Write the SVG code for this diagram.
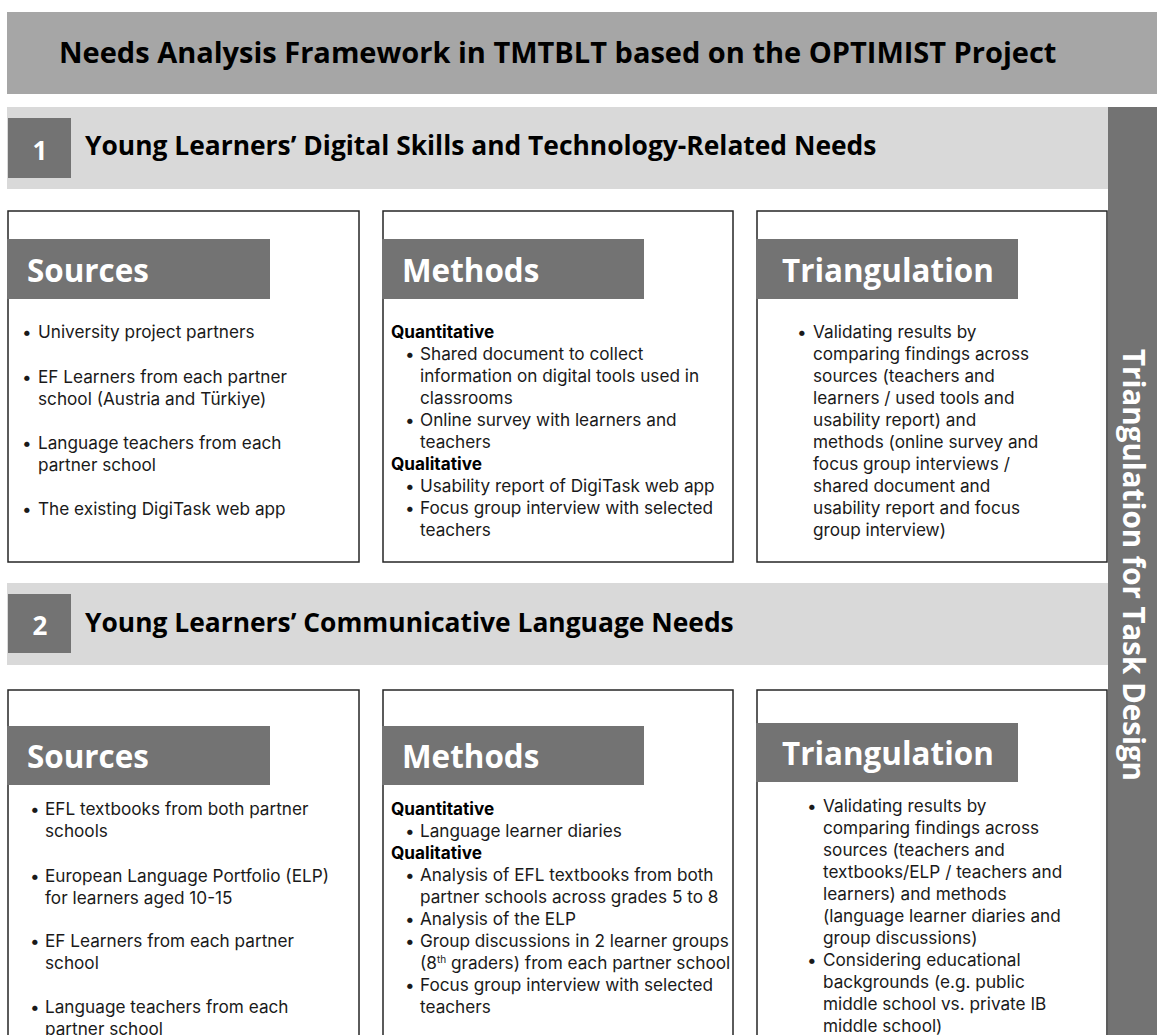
<svg xmlns="http://www.w3.org/2000/svg" width="1157" height="1035" viewBox="0 0 1157 1035">
<style>
.title{font-family:"Open Sans","Liberation Sans",sans-serif;font-weight:700;font-size:29px;fill:#000}
.sec{font-family:"Open Sans","Liberation Sans",sans-serif;font-weight:700;font-size:26.4px;fill:#000}
.num{font-family:"Open Sans","Liberation Sans",sans-serif;font-weight:700;font-size:26px;fill:#fff;text-anchor:middle}
.hdr{font-family:"Open Sans","Liberation Sans",sans-serif;font-weight:700;font-size:31.4px;fill:#fff}
.side{font-family:"Open Sans","Liberation Sans",sans-serif;font-weight:700;font-size:29.5px;fill:#fff;text-anchor:middle}
.body{font-family:Inter,"Liberation Sans",sans-serif;font-size:17.2px;fill:#1a1a1a}
.bold{font-weight:700;fill:#000}
.box{fill:#fff;stroke:#262626;stroke-width:1.5}
.bar{fill:#737373}
.band{fill:#d9d9d9}
</style>
<rect width="1157" height="1035" fill="#fff"/>
<g id="title">
<rect x="7" y="12" width="1150" height="82" fill="#a6a6a6"/>
<text class="title" x="59" y="63">Needs Analysis Framework in TMTBLT based on the OPTIMIST Project</text>
</g>
<g id="section1-header">
<rect class="band" x="7" y="107" width="1101" height="82"/>
<rect class="bar" x="8" y="118" width="63" height="60"/>
<text class="num" x="40" y="160">1</text>
<text class="sec" x="85" y="155">Young Learners’ Digital Skills and Technology-Related Needs</text>
</g>
<g id="sidebar">
<rect class="bar" x="1108" y="107" width="49" height="928"/>
<text class="side" transform="translate(1123,565) rotate(90)" x="0" y="0">Triangulation for Task Design</text>
</g>
<g id="s1-sources">
<rect class="box" x="8" y="211" width="351" height="351"/>
<rect class="bar" x="7" y="239" width="263" height="60"/>
<text class="hdr" x="27" y="282">Sources</text>
<g class="body">
<text x="22" y="338">•</text><text x="38" y="338">University project partners</text>
<text x="22" y="383">•</text><text x="38" y="383">EF Learners from each partner</text>
<text x="38" y="405">school (Austria and Türkiye)</text>
<text x="22" y="449">•</text><text x="38" y="449">Language teachers from each</text>
<text x="38" y="471">partner school</text>
<text x="22" y="515">•</text><text x="38" y="515">The existing DigiTask web app</text>
</g>
</g>
<g id="s1-methods">
<rect class="box" x="383" y="211" width="350" height="351"/>
<rect class="bar" x="382" y="239" width="262" height="60"/>
<text class="hdr" x="402" y="282">Methods</text>
<g class="body">
<text class="bold" x="391" y="338">Quantitative</text>
<text x="405" y="360">•</text><text x="420" y="360">Shared document to collect</text>
<text x="420" y="382">information on digital tools used in</text>
<text x="420" y="404">classrooms</text>
<text x="405" y="426">•</text><text x="420" y="426">Online survey with learners and</text>
<text x="420" y="448">teachers</text>
<text class="bold" x="391" y="470">Qualitative</text>
<text x="405" y="492">•</text><text x="420" y="492">Usability report of DigiTask web app</text>
<text x="405" y="514">•</text><text x="420" y="514">Focus group interview with selected</text>
<text x="420" y="536">teachers</text>
</g>
</g>
<g id="s1-triangulation">
<rect class="box" x="757" y="211" width="350" height="351"/>
<rect class="bar" x="756" y="239" width="262" height="60"/>
<text class="hdr" x="782" y="282">Triangulation</text>
<g class="body">
<text x="797" y="338">•</text><text x="813" y="338">Validating results by</text>
<text x="813" y="360">comparing findings across</text>
<text x="813" y="382">sources (teachers and</text>
<text x="813" y="404">learners / used tools and</text>
<text x="813" y="426">usability report) and</text>
<text x="813" y="448">methods (online survey and</text>
<text x="813" y="470">focus group interviews /</text>
<text x="813" y="492">shared document and</text>
<text x="813" y="514">usability report and focus</text>
<text x="813" y="536">group interview)</text>
</g>
</g>
<g id="section2-header">
<rect class="band" x="7" y="583" width="1101" height="82"/>
<rect class="bar" x="8" y="594" width="63" height="59"/>
<text class="num" x="40" y="635">2</text>
<text class="sec" x="85" y="632">Young Learners’ Communicative Language Needs</text>
</g>
<g id="s2-sources">
<rect class="box" x="8" y="690" width="351" height="360"/>
<rect class="bar" x="7" y="726" width="263" height="59"/>
<text class="hdr" x="27" y="768">Sources</text>
<g class="body">
<text x="30" y="815">•</text><text x="45" y="815">EFL textbooks from both partner</text>
<text x="45" y="837">schools</text>
<text x="30" y="882">•</text><text x="45" y="882">European Language Portfolio (ELP)</text>
<text x="45" y="904">for learners aged 10-15</text>
<text x="30" y="947">•</text><text x="45" y="947">EF Learners from each partner</text>
<text x="45" y="969">school</text>
<text x="30" y="1013">•</text><text x="45" y="1013">Language teachers from each</text>
<text x="45" y="1035">partner school</text>
</g>
</g>
<g id="s2-methods">
<rect class="box" x="383" y="690" width="350" height="360"/>
<rect class="bar" x="382" y="726" width="262" height="59"/>
<text class="hdr" x="402" y="768">Methods</text>
<g class="body">
<text class="bold" x="391" y="815">Quantitative</text>
<text x="405" y="837">•</text><text x="420" y="837">Language learner diaries</text>
<text class="bold" x="391" y="859">Qualitative</text>
<text x="405" y="881">•</text><text x="420" y="881">Analysis of EFL textbooks from both</text>
<text x="420" y="903">partner schools across grades 5 to 8</text>
<text x="405" y="925">•</text><text x="420" y="925">Analysis of the ELP</text>
<text x="405" y="947">•</text><text x="420" y="947">Group discussions in 2 learner groups</text>
<text x="420" y="969">(8<tspan font-size="10" dy="-6">th</tspan><tspan dy="6"> graders) from each partner school</tspan></text>
<text x="405" y="991">•</text><text x="420" y="991">Focus group interview with selected</text>
<text x="420" y="1013">teachers</text>
</g>
</g>
<g id="s2-triangulation">
<rect class="box" x="757" y="690" width="350" height="360"/>
<rect class="bar" x="756" y="723" width="262" height="59"/>
<text class="hdr" x="782" y="765">Triangulation</text>
<g class="body">
<text x="807" y="812">•</text><text x="823" y="812">Validating results by</text>
<text x="823" y="834">comparing findings across</text>
<text x="823" y="856">sources (teachers and</text>
<text x="823" y="878">textbooks/ELP / teachers and</text>
<text x="823" y="900">learners) and methods</text>
<text x="823" y="922">(language learner diaries and</text>
<text x="823" y="944">group discussions)</text>
<text x="807" y="966">•</text><text x="823" y="966">Considering educational</text>
<text x="823" y="988">backgrounds (e.g. public</text>
<text x="823" y="1010">middle school vs. private IB</text>
<text x="823" y="1032">middle school)</text>
</g>
</g>
</svg>
